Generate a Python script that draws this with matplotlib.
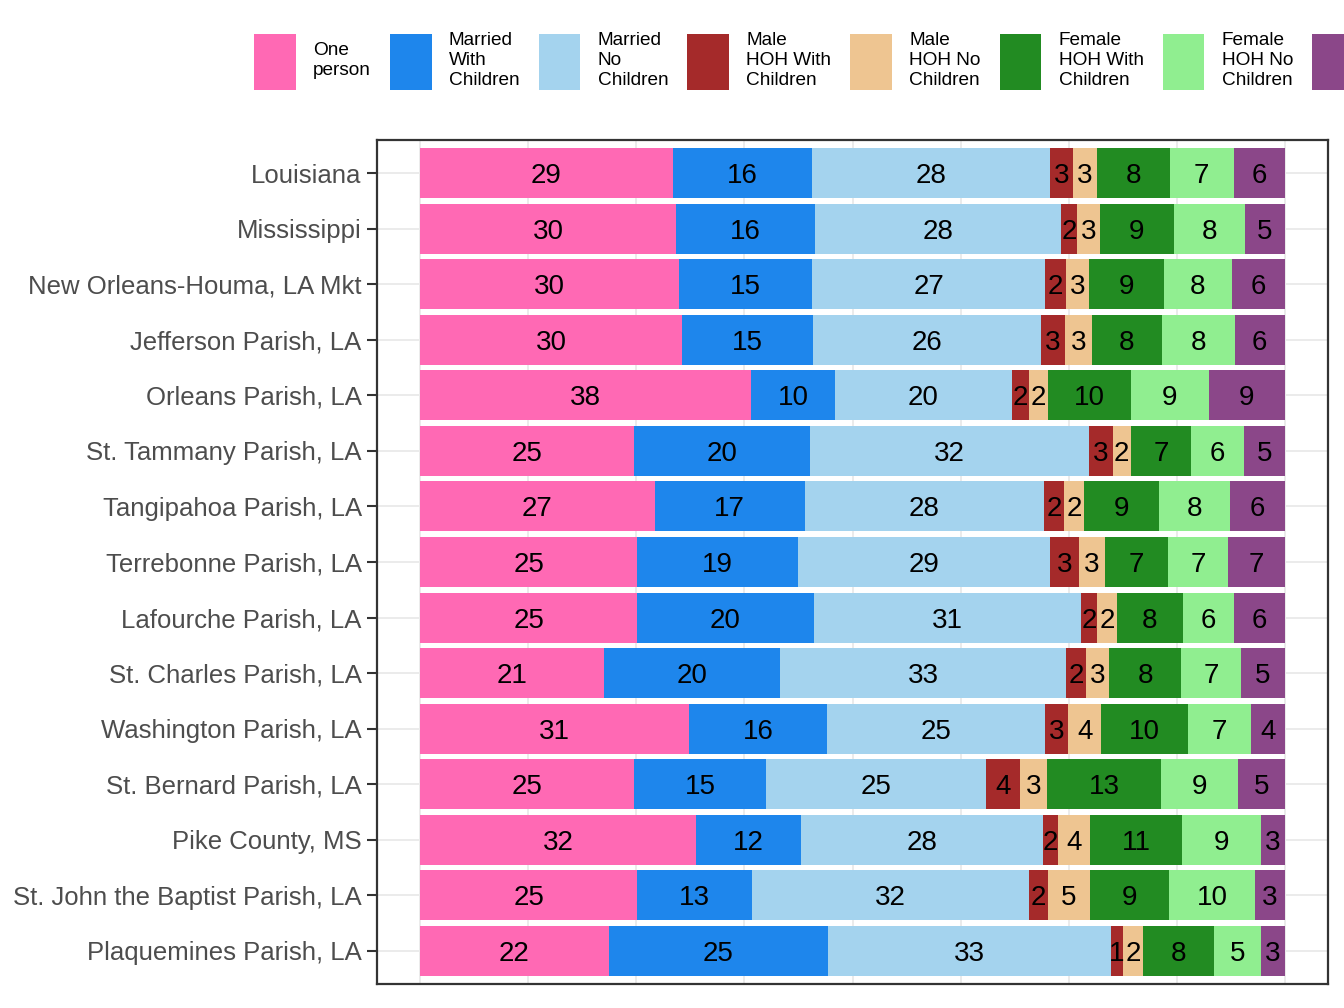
import numpy as np
import matplotlib
matplotlib.use("Agg")
import matplotlib.pyplot as plt
from matplotlib.patches import Patch

plt.rcParams['font.family'] = ['Liberation Sans', 'DejaVu Sans']

areas = ["Louisiana", "Mississippi", "New Orleans-Houma, LA Mkt", "Jefferson Parish, LA",
         "Orleans Parish, LA", "St. Tammany Parish, LA", "Tangipahoa Parish, LA",
         "Terrebonne Parish, LA", "Lafourche Parish, LA", "St. Charles Parish, LA",
         "Washington Parish, LA", "St. Bernard Parish, LA", "Pike County, MS",
         "St. John the Baptist Parish, LA", "Plaquemines Parish, LA"]

# the last entry's text falls outside the picture in the reference, so it stays blank
household_types = ["One\nperson", "Married\nWith\nChildren", "Married\nNo\nChildren",
                   "Male\nHOH With\nChildren", "Male\nHOH No\nChildren",
                   "Female\nHOH With\nChildren", "Female\nHOH No\nChildren", ""]

colors = ["#FF69B4", "#1E86EC", "#A4D3EE", "#A52A2A", "#EEC591",
          "#228B22", "#90EE90", "#8B4789"]

# percent of households, one list per type, in the order of areas
one_person      = [29.2, 29.6, 29.9, 30.3, 38.3, 24.7, 27.1, 25.1, 25.1, 21.3, 31.1, 24.7, 31.9, 25.1, 21.8]
married_kids    = [16.1, 16.1, 15.4, 15.1, 9.7, 20.4, 17.4, 18.6, 20.4, 20.3, 16.0, 15.3, 12.1, 13.3, 25.4]
married_nokids  = [27.6, 28.4, 27.0, 26.4, 20.4, 32.2, 27.6, 29.2, 30.9, 33.1, 25.2, 25.4, 28.0, 32.0, 32.7]
male_kids       = [2.6, 1.9, 2.4, 2.8, 2.0, 2.8, 2.4, 3.3, 1.9, 2.3, 2.6, 4.0, 1.8, 2.2, 1.4]
male_nokids     = [2.8, 2.6, 2.7, 3.1, 2.2, 2.1, 2.3, 3.0, 2.3, 2.7, 3.9, 3.1, 3.7, 4.9, 2.3]
female_kids     = [8.4, 8.6, 8.6, 8.1, 9.6, 7.0, 8.6, 7.3, 7.6, 8.3, 10.0, 13.2, 10.6, 9.1, 8.2]
female_nokids   = [7.4, 8.2, 7.9, 8.4, 9.0, 6.1, 8.3, 6.9, 5.9, 6.9, 7.3, 8.9, 9.1, 10.0, 5.4]
nonfamily       = [5.9, 4.6, 6.1, 5.8, 8.8, 4.7, 6.3, 6.6, 5.9, 5.1, 3.9, 5.4, 2.8, 3.4, 2.8]

series = [one_person, married_kids, married_nokids, male_kids, male_nokids,
          female_kids, female_nokids, nonfamily]

fig = plt.figure(figsize=(13.44, 10.08), dpi=100)
ax = fig.add_axes([377/1344, 24/1008, 951/1344, 844/1008])

y = np.arange(len(areas))
left = np.zeros(len(areas))
for vals, col in zip(series, colors):
    vals = np.array(vals)
    ax.barh(y, vals, left=left, height=0.9, color=col, edgecolor='none', zorder=2)
    for yi, l, v in zip(y, left, vals):
        ax.text(l + v / 2, yi, f"{round(v)}", ha='center', va='center_baseline',
                fontsize=20, color='black', zorder=3)
    left += vals

ax.set_xlim(-5, 105)
ax.set_ylim(len(areas) - 0.4, -0.6)
ax.set_yticks(y)
ax.set_yticklabels(areas, fontsize=18.5, color='#4D4D4D')
ax.set_xticks([0, 25, 50, 75, 100])
ax.set_xticks([12.5, 37.5, 62.5, 87.5], minor=True)
ax.tick_params(axis='x', which='both', bottom=False, labelbottom=False)
ax.tick_params(axis='y', length=7, width=1.5, color='#333333', pad=4)
ax.grid(True, which='both', color='#EBEBEB', linewidth=1.4, zorder=0)
ax.set_axisbelow(True)
for s in ax.spines.values():
    s.set_color('#333333')
    s.set_linewidth(1.6)

handles = [Patch(facecolor=c, edgecolor='none') for c in colors]
leg = fig.legend(handles, household_types, loc='center left',
                 bbox_to_anchor=(254/1344, 1 - 61/1008), ncol=8, frameon=False,
                 fontsize=13.7, handlelength=2.2, handleheight=4.15,
                 handletextpad=0.9, columnspacing=1.0, borderpad=0,
                 borderaxespad=0)
for t in leg.get_texts():
    t.set_linespacing(1.24)

fig.savefig("out.png", dpi=100)
